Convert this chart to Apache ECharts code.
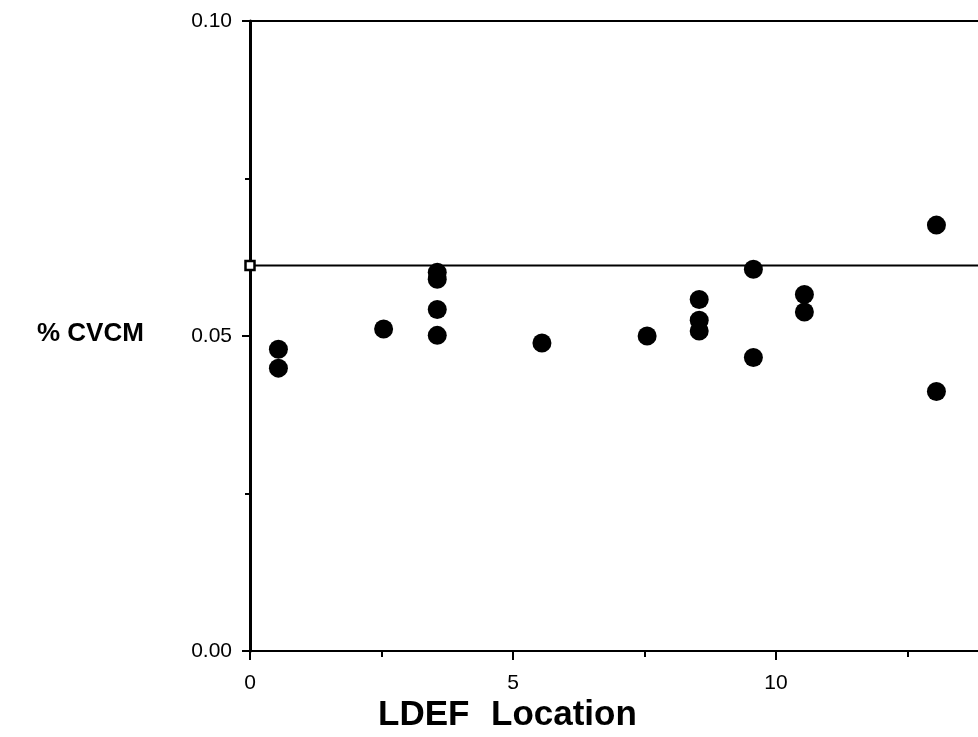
<!DOCTYPE html>
<html>
<head>
<meta charset="utf-8">
<script src="https://cdn.jsdelivr.net/npm/echarts@6/dist/echarts.min.js"></script>
<style>
html,body{margin:0;padding:0;background:#fff;}
#c{width:978px;height:737px;}
</style>
</head>
<body>
<div id="c"></div>
<script>
const locations = [0.54, 0.54, 2.54, 3.56, 3.56, 3.56, 3.56, 5.55, 7.55, 8.54, 8.54, 8.54, 9.57, 9.57, 10.54, 10.54, 13.05, 13.05];
const cvcm = [0.0479, 0.0449, 0.0511, 0.0601, 0.0590, 0.0542, 0.0501, 0.0489, 0.0500, 0.0558, 0.0525, 0.0508, 0.0606, 0.0466, 0.0566, 0.0538, 0.0676, 0.0412];
// reference limit line
const limitValue = 0.0612;
const limitSpan = [0, 15];
const xTickLabels = ['0', '5', '10'];
const yTickLabels = ['0.00', '0.05', '0.10'];

const points = locations.map((x, i) => [x, cvcm[i]]);
const limitLine = limitSpan.map(x => [x, limitValue]);
const labelFont = '"Liberation Sans", Arial, sans-serif';

const chart = echarts.init(document.getElementById('c'), null, {renderer: 'canvas'});
chart.setOption({
  backgroundColor: '#ffffff',
  animation: false,
  grid: {left: 250, top: 21, bottom: 86, right: -61, containLabel: false, outerBoundsMode: 'none'},
  xAxis: [{
    type: 'value', min: 0, max: 15, interval: 5, position: 'bottom',
    axisLine: {onZero: false, lineStyle: {color: '#000', width: 2}},
    axisTick: {show: true, length: 9, lineStyle: {color: '#000', width: 2}},
    minorTick: {show: true, splitNumber: 2, length: 6, lineStyle: {color: '#000', width: 2}},
    splitLine: {show: false},
    axisLabel: {
      margin: 22, color: '#000', fontSize: 21, fontFamily: labelFont,
      formatter: v => { const i = Math.round(v / 5); return (Math.abs(v - i * 5) < 1e-9 && i < xTickLabels.length) ? xTickLabels[i] : ''; }
    }
  }, {
    type: 'value', min: 0, max: 15, position: 'top',
    axisLine: {show: true, onZero: false, lineStyle: {color: '#000', width: 2}},
    axisTick: {show: false}, axisLabel: {show: false}, splitLine: {show: false}
  }],
  yAxis: {
    type: 'value', min: 0, max: 0.1, interval: 0.05,
    axisLine: {show: true, onZero: false, lineStyle: {color: '#000', width: 3}},
    axisTick: {show: true, length: 8, lineStyle: {color: '#000', width: 2}},
    minorTick: {show: true, splitNumber: 2, length: 5, lineStyle: {color: '#000', width: 2}},
    splitLine: {show: false},
    axisLabel: {
      margin: 18, color: '#000', fontSize: 21, fontFamily: labelFont,
      formatter: v => { const i = Math.round(v / 0.05); return yTickLabels[i] !== undefined ? yTickLabels[i] : ''; }
    }
  },
  series: [{
    type: 'line',
    data: limitLine,
    showSymbol: false,
    symbol: 'none',
    silent: true,
    lineStyle: {color: '#000', width: 2},
    z: 1
  }, {
    type: 'scatter',
    data: points,
    symbol: 'circle',
    symbolSize: 19,
    itemStyle: {color: '#000', opacity: 1},
    clip: false,
    z: 3
  }, {
    type: 'scatter',
    data: [[0, limitValue]],
    symbol: 'rect',
    symbolSize: 9,
    clip: false,
    itemStyle: {color: '#fff', borderColor: '#000', borderWidth: 2.5, opacity: 1},
    z: 4
  }],
  graphic: [{
    type: 'text', x: 37, y: 334,
    style: {text: '% CVCM', font: 'bold 26px ' + labelFont, fill: '#000', verticalAlign: 'middle', align: 'left'}
  }, {
    type: 'text', x: 378, y: 715,
    style: {text: 'LDEF', font: 'bold 35px ' + labelFont, fill: '#000', verticalAlign: 'middle', align: 'left'}
  }, {
    type: 'text', x: 491, y: 715,
    style: {text: 'Location', font: 'bold 35px ' + labelFont, fill: '#000', verticalAlign: 'middle', align: 'left'}
  }]
});
</script>
</body>
</html>
